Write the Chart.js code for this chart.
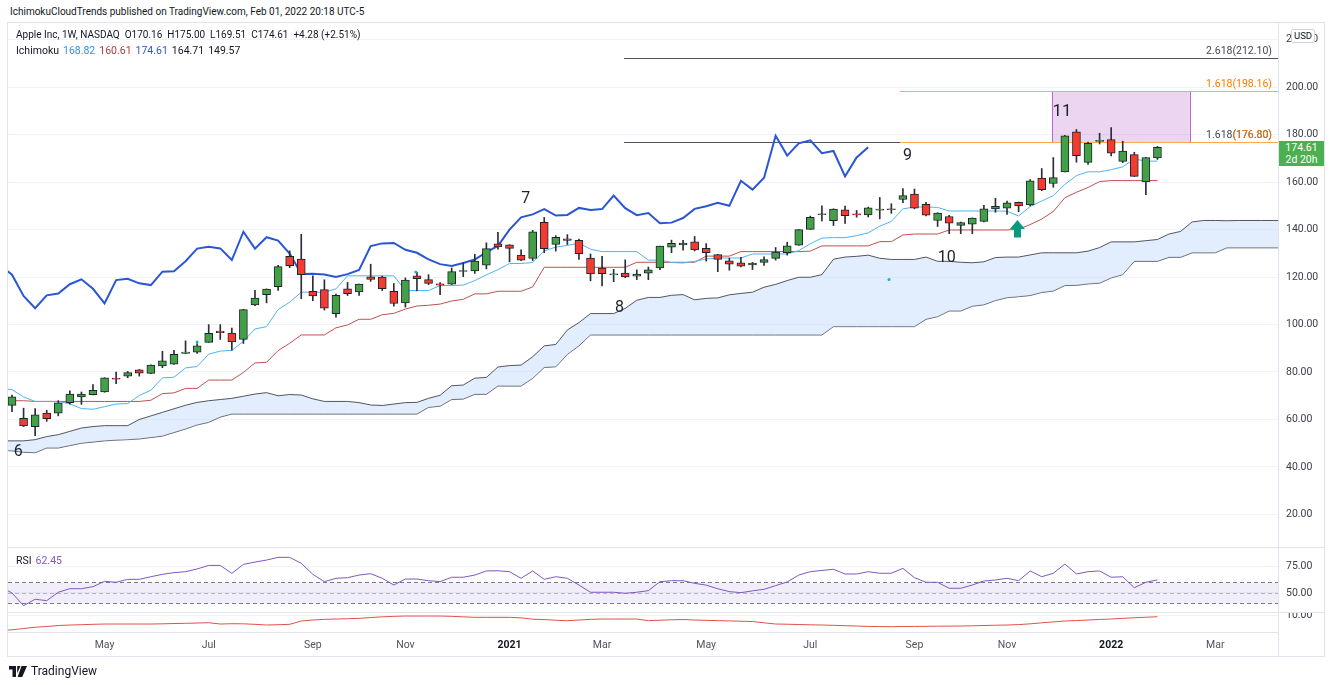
<!DOCTYPE html>
<html>
<head>
<meta charset="utf-8">
<title>Apple Inc, 1W, NASDAQ - Ichimoku</title>
<script src="https://cdn.jsdelivr.net/npm/chart.js@4.4.1/dist/chart.umd.min.js"></script>
<style>
  html, body { margin: 0; padding: 0; background: #fff; }
  body { width: 1332px; height: 685px; position: relative; overflow: hidden; font-family: Roboto, "Noto Sans", sans-serif; color: #131722; }
  .abs { position: absolute; white-space: nowrap; }
  canvas { position: absolute; }
  #frame { left: 7px; top: 22px; width: 1316px; height: 633px; border: 1px solid #e0e3eb; }
  .sep { position: absolute; background: #e0e3eb; }
  #hdr { left: 10px; top: 6px; font-size: 10px; }
  .legend { left: 16px; font-size: 10px; }
  .legend span { margin-right: 4px; }
  #usd { left: 1291px; top: 29px; width: 22px; height: 12px; border: 1px solid #d1d4dc; border-radius: 2px; background: #fff; font-size: 9.5px; line-height: 12px; text-align: center; }
  #tag { left: 1279px; top: 141px; width: 45px; height: 25px; background: #4caf50; color: #fff; font-size: 10.5px; line-height: 12px; text-align: center; padding-top: 1px; box-sizing: border-box; }
  #logo { left: 9px; top: 664px; font-size: 12px; display: flex; align-items: center; }
</style>
</head>
<body>
<div id="hdr" class="abs">IchimokuCloudTrends published on TradingView.com, Feb 01, 2022 20:18 UTC-5</div>
<div id="frame" class="abs"></div>

<canvas id="mainChart" width="1316" height="524" style="left:8px;top:23px"></canvas>
<div class="sep" style="left:8px;top:547px;width:1316px;height:1px"></div>
<canvas id="rsiChart" width="1316" height="64" style="left:8px;top:548px"></canvas>
<div class="sep" style="left:8px;top:612px;width:1316px;height:1px"></div>
<canvas id="lowChart" width="1316" height="43" style="left:8px;top:613px"></canvas>
<div class="sep" style="left:1278px;top:632px;width:1px;height:24px"></div>

<div class="abs legend" style="top:29px">Apple Inc, 1W, NASDAQ&nbsp; O170.16&nbsp; H175.00&nbsp; L169.51&nbsp; C174.61&nbsp; +4.28 (+2.51%)</div>
<div class="abs legend" style="top:44px;font-size:10.5px"><span>Ichimoku</span><span style="color:#2196f3">168.82</span><span style="color:#b23b3b">160.61</span><span style="color:#2a56d6">174.61</span><span>164.71</span><span>149.57</span></div>
<div class="abs legend" style="top:554px;font-size:10.5px"><span>RSI</span><span style="color:#7e57c2">62.45</span></div>
<div id="usd" class="abs">USD</div>
<div id="tag" class="abs">174.61<br>2d 20h</div>
<div id="logo" class="abs">
  <svg width="18" height="11" viewBox="0 0 18 11"><path d="M0 0h7v11H3.5V3.5H0z M8.2 0h3.3L8.2 7.5z M12.5 0H18l-4.8 11H8.6z" fill="#131722"/></svg>
  <span style="margin-left:4px">TradingView</span>
</div>

<script>
/* Data (weekly bars, Mar 2 2020 .. Jan 31 2022) */
const weeks = ['2020-03-02','2020-03-09','2020-03-16','2020-03-23','2020-03-30','2020-04-06','2020-04-13','2020-04-20','2020-04-27','2020-05-04',
  '2020-05-11','2020-05-18','2020-05-25','2020-06-01','2020-06-08','2020-06-15','2020-06-22','2020-06-29','2020-07-06','2020-07-13',
  '2020-07-20','2020-07-27','2020-08-03','2020-08-10','2020-08-17','2020-08-24','2020-08-31','2020-09-07','2020-09-14','2020-09-21',
  '2020-09-28','2020-10-05','2020-10-12','2020-10-19','2020-10-26','2020-11-02','2020-11-09','2020-11-16','2020-11-23','2020-11-30',
  '2020-12-07','2020-12-14','2020-12-21','2020-12-28','2021-01-04','2021-01-11','2021-01-18','2021-01-25','2021-02-01','2021-02-08',
  '2021-02-15','2021-02-22','2021-03-01','2021-03-08','2021-03-15','2021-03-22','2021-03-29','2021-04-05','2021-04-12','2021-04-19',
  '2021-04-26','2021-05-03','2021-05-10','2021-05-17','2021-05-24','2021-05-31','2021-06-07','2021-06-14','2021-06-21','2021-06-28',
  '2021-07-05','2021-07-12','2021-07-19','2021-07-26','2021-08-02','2021-08-09','2021-08-16','2021-08-23','2021-08-30','2021-09-06',
  '2021-09-13','2021-09-20','2021-09-27','2021-10-04','2021-10-11','2021-10-18','2021-10-25','2021-11-01','2021-11-08','2021-11-15',
  '2021-11-22','2021-11-29','2021-12-06','2021-12-13','2021-12-20','2021-12-27','2022-01-03','2022-01-10','2022-01-17','2022-01-24',
  '2022-01-31'];

const openP = [70.57,65.94,60.49,57.02,62.69,62.69,67.08,69.49,70.45,71.56,
  77.04,78.29,80.88,79.44,82.56,83.31,87.84,88.31,92.50,97.27,
  96.42,93.71,108.20,112.60,115.98,128.70,127.58,113.95,114.72,104.54,
  115.01,113.70,120.06,119.96,114.01,109.11,120.50,118.92,117.18,116.97,
  122.31,122.60,125.02,133.99,133.52,129.19,127.78,143.07,133.75,136.03,
  135.49,128.01,123.75,120.93,121.69,120.33,121.65,123.87,132.52,133.51,
  134.83,132.04,129.41,126.82,126.01,125.08,126.17,127.82,130.30,133.41,
  140.07,146.21,143.75,148.27,146.36,146.20,148.54,148.31,152.66,154.97,
  150.63,143.80,145.47,141.76,142.27,143.45,148.68,148.99,151.41,150.37,
  161.68,159.37,164.29,181.12,168.28,177.09,177.83,168.68,171.51,160.02,
  170.16];
const highP = [75.36,70.31,64.77,64.56,63.88,67.93,72.06,71.58,74.75,77.59,
  79.92,80.22,81.06,83.00,88.69,89.14,93.10,92.00,99.96,99.96,
  98.50,106.42,114.41,115.00,124.87,131.00,137.98,120.50,118.83,112.86,
  117.72,117.00,125.39,120.42,117.28,119.62,121.99,120.99,117.62,123.78,
  125.95,129.58,134.41,138.79,133.61,131.45,139.67,145.09,137.42,137.88,
  136.01,129.72,128.72,123.21,127.22,123.00,124.18,133.04,135.53,135.47,
  137.07,134.07,129.54,127.94,128.32,126.16,128.46,132.41,134.64,140.00,
  145.65,150.00,148.72,149.83,148.04,149.44,153.49,150.86,157.26,157.04,
  151.42,147.08,145.96,143.17,144.90,150.18,153.17,152.00,151.57,161.02,
  165.70,170.30,179.63,182.13,176.85,180.57,182.94,177.18,172.54,170.35,
  175.00];
const lowP = [64.09,63.24,57.00,53.15,59.22,61.52,66.45,66.36,70.30,71.46,
  75.05,77.58,78.27,79.30,81.83,83.14,87.77,87.82,92.47,93.70,
  89.14,92.01,107.89,109.11,114.30,123.94,110.89,110.00,106.09,103.10,
  112.22,112.25,118.15,114.28,107.72,107.32,114.13,116.81,112.59,116.81,
  120.15,121.54,123.45,131.72,126.38,126.86,126.94,130.21,130.93,133.69,
  127.41,118.39,116.21,118.03,119.68,118.92,118.86,123.07,130.21,131.30,
  130.97,126.70,122.25,122.86,124.21,123.13,124.83,127.13,129.21,133.35,
  140.07,143.63,141.67,142.54,145.18,145.30,144.50,146.83,151.28,148.70,
  145.76,141.27,138.27,138.27,138.27,143.16,147.24,146.41,147.48,149.92,
  156.36,157.80,164.28,168.34,167.46,176.02,170.97,168.17,162.30,154.70,
  169.51];
const closeP = [72.26,69.49,57.31,61.94,60.35,66.99,70.70,70.74,72.27,77.53,
  76.93,79.72,79.49,82.88,84.70,87.43,88.41,91.03,96.33,96.52,
  92.62,106.26,111.11,114.91,124.37,124.81,120.96,112.00,106.84,112.28,
  113.02,116.97,119.02,115.04,108.86,118.69,119.26,117.34,116.59,122.25,
  122.41,126.66,131.97,132.69,132.05,127.14,139.07,131.96,136.76,135.37,
  129.87,121.26,121.42,121.03,119.99,121.21,123.00,133.00,134.16,134.32,
  131.46,130.21,127.45,125.43,124.61,125.89,127.35,130.46,133.11,139.96,
  145.11,146.39,148.56,145.86,146.14,149.10,148.19,148.60,154.30,148.97,
  146.06,146.92,142.65,142.90,144.84,148.69,149.80,151.28,149.99,160.55,
  156.81,161.84,179.45,171.14,176.28,177.57,172.17,173.07,162.41,170.33,
  174.61];

// Ichimoku: conversion (tenkan), base (kijun), lagging (chikou, from bar 0), leading spans (to bar 111)
const tenkan = [73.0,72.6,69.5,67.6,67.6,67.6,66.6,64.6,64.3,65.4,
  66.5,66.7,70.1,72.3,77.5,77.8,81.7,82.3,87.5,88.8,
  89.1,92.9,98.1,99.1,106.3,109.4,113.6,113.6,113.6,115.0,
  120.5,120.5,120.5,120.5,120.5,114.3,114.3,114.3,116.4,116.4,
  116.6,118.5,120.9,123.1,125.7,125.7,126.1,131.0,132.6,133.3,
  134.3,131.7,130.7,130.7,130.7,130.7,127.1,127.1,126.1,125.9,
  126.6,127.6,128.0,128.0,128.0,129.7,129.7,129.7,129.7,131.1,
  134.0,136.4,136.6,136.6,137.4,138.6,141.4,143.4,148.7,149.5,
  149.5,149.3,147.8,147.8,147.8,147.8,147.8,147.7,145.7,149.7,
  152.0,154.3,159.0,162.7,164.3,164.3,165.2,166.4,169.7,168.8,
  168.8];
const kijun = [67.9,67.9,67.9,67.6,67.6,67.6,67.6,67.6,67.6,67.6,
  67.6,67.6,67.6,68.1,70.9,71.2,73.1,73.1,76.6,76.6,
  76.6,79.8,83.8,84.1,89.0,92.1,95.6,95.6,95.6,98.6,
  99.8,102.2,102.2,104.1,104.7,106.5,107.8,108.1,108.6,109.9,
  110.6,112.9,112.9,114.0,114.0,114.0,115.8,124.1,124.1,124.1,
  124.1,124.1,124.1,124.1,124.1,126.2,126.2,126.2,126.2,126.2,
  126.2,128.8,128.8,128.8,130.7,130.7,130.7,130.7,130.7,130.7,
  130.9,133.1,133.1,133.1,133.1,133.1,134.9,134.9,137.7,138.1,
  138.1,138.1,139.8,139.8,139.8,139.8,139.8,139.8,140.1,142.1,
  144.4,147.6,153.4,155.7,157.7,160.2,160.6,160.6,160.6,160.6,
  160.6];
const chikou = [124.81,120.96,112.00,106.84,112.28,113.02,116.97,119.02,115.04,108.86,
  118.69,119.26,117.34,116.59,122.25,122.41,126.66,131.97,132.69,132.05,
  127.14,139.07,131.96,136.76,135.37,129.87,121.26,121.42,121.03,119.99,
  121.21,123.00,133.00,134.16,134.32,131.46,130.21,127.45,125.43,124.61,
  125.89,127.35,130.46,133.11,139.96,145.11,146.39,148.56,145.86,146.14,
  149.10,148.19,148.60,154.30,148.97,146.06,146.92,142.65,142.90,144.84,
  148.69,149.80,151.28,149.99,160.55,156.81,161.84,179.45,171.14,176.28,
  177.57,172.17,173.07,162.41,170.33,174.61];
const spanA = [51.0,51.0,51.0,51.5,52.8,53.6,55.0,56.4,57.0,57.4,
  57.4,57.4,60.0,61.5,63.0,64.5,66.0,67.2,67.9,68.4,
  68.9,69.8,70.7,71.3,70.0,70.5,70.3,68.7,67.6,67.6,
  67.6,67.1,66.1,65.9,66.5,67.1,67.2,68.9,70.2,74.2,
  74.5,77.4,77.7,82.1,82.7,82.9,86.4,91.0,91.6,97.7,
  100.8,104.6,104.6,104.6,106.8,110.2,111.4,111.4,112.3,112.6,
  110.4,111.0,111.2,112.5,113.1,113.6,115.7,116.9,118.5,119.9,
  119.9,121.0,127.5,128.4,128.7,129.2,127.9,127.4,127.4,127.4,
  128.4,126.6,126.6,126.2,126.0,126.4,128.2,128.4,128.4,129.3,
  130.2,130.2,130.2,130.2,130.9,132.4,134.8,134.8,134.8,135.3,
  135.8,138.1,139.2,143.2,143.8,143.8,143.7,143.8,143.8,143.8,
  143.8,143.8];
const spanB = [47.0,46.8,46.2,46.0,48.0,48.0,49.0,50.0,50.5,51.0,
  51.3,51.5,51.8,52.4,53.0,54.5,56.0,57.7,58.8,61.0,
  62.3,62.3,62.3,62.3,62.3,62.3,62.3,62.3,62.3,62.3,
  62.3,62.3,62.3,62.3,62.3,62.3,62.3,65.1,65.6,68.4,
  68.6,70.6,70.6,74.1,74.1,74.1,77.3,81.9,82.2,87.4,
  91.0,95.6,95.6,95.6,95.6,95.6,95.6,95.6,95.6,95.6,
  95.6,95.6,95.6,95.6,95.6,95.6,95.6,95.6,95.6,95.6,
  95.6,95.6,99.1,99.1,99.1,99.1,99.1,99.1,99.1,99.1,
  102.2,103.3,105.7,105.7,107.7,108.3,110.1,111.3,111.7,112.2,
  113.5,114.1,116.4,116.5,117.1,117.4,119.6,121.0,126.6,126.6,
  126.6,128.3,128.3,130.2,130.2,130.2,132.3,132.3,132.3,132.3,
  132.3,132.3];

const rsi = [56,50,37.9,44,42.7,50.7,54.1,54.1,56,61.1,
  60.2,63,63,65.5,67.8,69.4,70.3,72.9,76.3,76.3,
  68.7,77.3,79.5,81.4,84,84,78.3,67.8,60.8,64,
  64.6,67.1,68.4,64,57.6,63.3,63.3,61.7,60.8,65,
  65,67.1,71,71.2,70.3,64,71,63,65.5,64,
  57.6,50.7,50.7,50.7,49.7,50.7,52.2,60.8,61.7,61.7,
  59.2,57.5,54,51.3,50.3,52,53.5,57,60.5,67.1,
  70.3,71.5,72.6,68.1,68.1,70.3,68.8,68.8,73.5,64.6,
  60.2,60.2,54.5,54.5,57.6,61.4,62.4,64,61.7,71,
  65.5,68.8,77.6,68.1,70.3,71,65,65.5,55,60.2,
  62.45];
const lowerPane = [2.1,2.6,3.25,3.9,4.25,4.75,5,5.15,5.35,5.5,
  5.5,5.5,5.5,5.5,5.6,5.75,5.85,6,6.15,5.5,
  5.65,5.6,5.35,5,5.15,5.35,7,7.5,7.85,8,
  8.15,8.35,8.75,9.1,9.35,9.5,9.5,9.5,9.5,9.35,
  9.1,8.85,8.85,8.85,8.85,8.6,7.9,7.75,7.4,7.15,
  7.5,7.85,8,8,8,8,7.2,7.4,7.6,7.75,
  7.5,7.35,7.2,7.05,6.9,6.75,6.1,5.5,5.4,5.25,
  5.1,5,4.85,4.65,4.5,4.3,4.2,4.15,4.25,4.3,
  4.35,4.4,4.45,4.5,4.6,4.75,4.9,5,5.2,5.6,
  6.1,6.55,7,7.25,7.5,7.8,8,8.35,8.65,8.9,
  9.15];

const priceTicks = [20, 40, 60, 80, 100, 120, 140, 160, 180, 200, 220];
const rsiTicks = [50, 75];
const lowerTicks = [10];
const xTickIdx = [9, 18, 27, 35, 44, 52, 61, 70, 79, 87, 96, 105];
const xTickText = ['May', 'Jul', 'Sep', 'Nov', '2021', 'Mar', 'May', 'Jul', 'Sep', 'Nov', '2022', 'Mar'];

/* Drawings on the price pane (data coordinates) */
const fibLines = [
    { value: 212.10, from: 53.9, to: null, color: '#50535e' },
    { value: 176.80, from: 53.9, to: 77.75, color: '#50535e' },
    { value: 198.16, from: 77.75, to: null, color: '#ffa94d' },
    { value: 176.80, from: 77.75, to: null, color: '#ffa94d' }
];
const fibLabels = [
    { value: 212.10, text: '2.618(212.10)', color: '#434651' },
    { value: 198.16, text: '1.618(198.16)', color: '#f57c00' },
    { value: 176.80, text: '1.618(176.80)', color: '#434651' },
    { value: 176.80, text: '(176.80)', color: '#f57c00' }
];
const targetBox = { from: 90.9, to: 102.8, top: 198.16, bottom: 176.80 };
const waveLabels = [
    { k: 1.55, v: 46.5, text: '6', size: 16 },
    { k: 45.4, v: 152.8, text: '7', size: 16 },
    { k: 53.5, v: 107.0, text: '8', size: 16 },
    { k: 78.4, v: 170.9, text: '9', size: 16 },
    { k: 81.8, v: 128.0, text: '10', size: 16 },
    { k: 91.75, v: 189.5, text: '11', size: 17 }
];
const upArrow = { k: 87.9, tip: 144.0, base: 136.6 };
const markerDots = [[17, 92.6], [35.9, 122.1], [76.8, 119.0]];

const X_MIN = 0.654;
const X_MAX = 110.42;
const AXIS_W = 46;
const FONT = 'Roboto, "Noto Sans", sans-serif';

/* Helper functions */
function pts(values) {
    return values.map((v, k) => ({ x: k, y: v }));
}

function fixedTicks(list) {
    return function (scale) {
        scale.ticks = list.map(v => ({ value: v }));
    };
}

// right price axis; tiny lineHeight and zero padding keep the axis from shrinking the plot area
function rightAxis(min, max, ticks, decimals) {
    return {
        position: 'right',
        min: min,
        max: max,
        afterBuildTicks: fixedTicks(ticks),
        afterFit: function (scale) { scale.width = AXIS_W; },
        grid: { color: '#f0f3fa', drawTicks: true, tickLength: 8, tickColor: 'rgba(0,0,0,0)' },
        border: { display: true, color: '#e0e3eb' },
        ticks: {
            padding: 0,
            color: '#3b3e48',
            font: { family: FONT, size: 10.5, lineHeight: 0.01 },
            callback: v => v.toFixed(decimals)
        }
    };
}

function hiddenX() {
    return { type: 'linear', min: X_MIN, max: X_MAX, display: false, offset: false };
}

const baseOptions = {
    responsive: false,
    animation: false,
    events: [],
    layout: { padding: 0, autoPadding: false },
    plugins: { legend: { display: false }, tooltip: { enabled: false } },
    elements: { point: { radius: 0 } }
};

/* Plugins */
const priceDrawings = {
    id: 'priceDrawings',
    beforeDatasetsDraw(chart) {
        const { ctx, chartArea: a, scales: { x, y } } = chart;
        ctx.save();
        ctx.beginPath();
        ctx.rect(a.left, a.top, a.right - a.left, a.bottom - a.top);
        ctx.clip();
        const bx1 = x.getPixelForValue(targetBox.from), bx2 = x.getPixelForValue(targetBox.to);
        const by1 = y.getPixelForValue(targetBox.top), by2 = y.getPixelForValue(targetBox.bottom);
        ctx.fillStyle = 'rgba(186, 104, 200, 0.28)';
        ctx.fillRect(bx1, by1, bx2 - bx1, by2 - by1);
        ctx.strokeStyle = '#ba68c8';
        ctx.lineWidth = 1;
        ctx.strokeRect(Math.round(bx1) + 0.5, Math.round(by1) + 0.5, Math.round(bx2 - bx1), Math.round(by2 - by1));
        fibLines.forEach(f => {
            const yy = Math.round(y.getPixelForValue(f.value)) + 0.5;
            ctx.strokeStyle = f.color;
            ctx.beginPath();
            ctx.moveTo(x.getPixelForValue(f.from), yy);
            ctx.lineTo(f.to === null ? a.right : x.getPixelForValue(f.to), yy);
            ctx.stroke();
        });
        ctx.restore();
    },
    afterDatasetsDraw(chart) {
        const { ctx, chartArea: a, scales: { x, y } } = chart;
        ctx.save();
        ctx.textAlign = 'right';
        ctx.textBaseline = 'middle';
        ctx.font = '10.5px ' + FONT;
        fibLabels.forEach(l => {
            ctx.fillStyle = l.color;
            ctx.fillText(l.text, a.right - 6, y.getPixelForValue(l.value) - 7);
        });
        ctx.textAlign = 'center';
        ctx.fillStyle = '#1e222d';
        waveLabels.forEach(w => {
            ctx.font = w.size + 'px ' + FONT;
            ctx.fillText(w.text, x.getPixelForValue(w.k), y.getPixelForValue(w.v));
        });
        // green arrow
        const ax = x.getPixelForValue(upArrow.k);
        const ty = y.getPixelForValue(upArrow.tip), by = y.getPixelForValue(upArrow.base);
        const hy = ty + 9;
        ctx.fillStyle = '#089981';
        ctx.beginPath();
        ctx.moveTo(ax, ty);
        ctx.lineTo(ax + 7.5, hy);
        ctx.lineTo(ax + 3.5, hy);
        ctx.lineTo(ax + 3.5, by);
        ctx.lineTo(ax - 3.5, by);
        ctx.lineTo(ax - 3.5, hy);
        ctx.lineTo(ax - 7.5, hy);
        ctx.closePath();
        ctx.fill();
        ctx.fillStyle = '#00bcd4';
        markerDots.forEach(d => {
            ctx.beginPath();
            ctx.arc(x.getPixelForValue(d[0]), y.getPixelForValue(d[1]), 1.5, 0, Math.PI * 2);
            ctx.fill();
        });
        ctx.restore();
    }
};

const rsiBands = {
    id: 'rsiBands',
    beforeDatasetsDraw(chart) {
        const { ctx, chartArea: a, scales: { y } } = chart;
        const y60 = Math.round(y.getPixelForValue(60)) + 0.5;
        const y50 = Math.round(y.getPixelForValue(50)) + 0.5;
        const y40 = Math.round(y.getPixelForValue(40)) + 0.5;
        ctx.save();
        ctx.fillStyle = 'rgba(126, 87, 194, 0.1)';
        ctx.fillRect(a.left, y60, a.right - a.left, y40 - y60);
        ctx.setLineDash([4, 3]);
        ctx.lineWidth = 1;
        [[y60, '#787b86'], [y50, 'rgba(120,123,134,0.5)'], [y40, '#787b86']].forEach(l => {
            ctx.strokeStyle = l[1];
            ctx.beginPath();
            ctx.moveTo(a.left, l[0]);
            ctx.lineTo(a.right, l[0]);
            ctx.stroke();
        });
        ctx.restore();
    }
};

/* Chart configs */
const bodyColors = closeP.map((c, k) => c >= openP[k] ? '#43a047' : '#f23c32');

const configMain = {
    type: 'bar',
    data: {
        datasets: [
            {
                label: 'Body',
                data: closeP.map((c, k) => ({ x: k, y: [openP[k], c] })),
                backgroundColor: bodyColors,
                borderColor: '#1e222d',
                borderWidth: 1,
                borderSkipped: false,
                barThickness: 8,
                minBarLength: 1,
                grouped: false,
                order: 1
            },
            {
                label: 'Wick',
                data: highP.map((h, k) => ({ x: k, y: [lowP[k], h] })),
                backgroundColor: '#2a2e39',
                borderWidth: 0,
                barThickness: 1,
                grouped: false,
                order: 2
            },
            {
                type: 'line',
                label: 'Lagging Span',
                data: pts(chikou),
                borderColor: '#2a56d6',
                borderWidth: 2,
                pointRadius: 0,
                fill: false,
                order: 3
            },
            {
                type: 'line',
                label: 'Conversion Line',
                data: pts(tenkan),
                borderColor: '#4fb3f6',
                borderWidth: 1,
                pointRadius: 0,
                fill: false,
                order: 4
            },
            {
                type: 'line',
                label: 'Base Line',
                data: pts(kijun),
                borderColor: '#c0504d',
                borderWidth: 1,
                pointRadius: 0,
                fill: false,
                order: 5
            },
            {
                type: 'line',
                label: 'Lead 1',
                data: pts(spanA),
                borderColor: 'rgba(55, 58, 66, 0.85)',
                borderWidth: 1,
                pointRadius: 0,
                backgroundColor: 'rgba(190, 215, 250, 0.45)',
                fill: '+1',
                order: 6
            },
            {
                type: 'line',
                label: 'Lead 2',
                data: pts(spanB),
                borderColor: 'rgba(55, 58, 66, 0.85)',
                borderWidth: 1,
                pointRadius: 0,
                fill: false,
                order: 7
            }
        ]
    },
    options: Object.assign({}, baseOptions, {
        scales: {
            x: hiddenX(),
            y: rightAxis(6.32, 226.95, priceTicks, 2)
        }
    }),
    plugins: [priceDrawings]
};

const configRsi = {
    type: 'line',
    data: {
        datasets: [{
            label: 'RSI',
            data: pts(rsi),
            borderColor: '#7e57c2',
            borderWidth: 1,
            pointRadius: 0,
            fill: false
        }]
    },
    options: Object.assign({}, baseOptions, {
        scales: {
            x: hiddenX(),
            y: rightAxis(31.9, 92.86, rsiTicks, 2)
        }
    }),
    plugins: [rsiBands]
};

const configLow = {
    type: 'line',
    data: {
        datasets: [{
            label: 'Lower pane',
            data: pts(lowerPane),
            borderColor: '#e0514b',
            borderWidth: 1,
            pointRadius: 0,
            fill: false
        }]
    },
    options: Object.assign({}, baseOptions, {
        scales: {
            x: {
                type: 'linear',
                min: X_MIN,
                max: X_MAX,
                offset: false,
                afterBuildTicks: fixedTicks(xTickIdx),
                afterFit: function (scale) { scale.height = 24; },
                grid: { display: false, drawTicks: false },
                border: { display: true, color: '#e0e3eb' },
                ticks: {
                    autoSkip: false,
                    maxRotation: 0,
                    padding: 7,
                    callback: (v, i) => xTickText[i],
                    color: ctx => /^20/.test(xTickText[ctx.index] || '') ? '#131722' : '#50535e',
                    font: ctx => ({
                        family: FONT,
                        size: 10.5,
                        weight: /^20/.test(xTickText[ctx.index] || '') ? 'bold' : 'normal'
                    })
                }
            },
            y: rightAxis(1.5, 11, lowerTicks, 2)
        }
    })
};

let mainChart;
let rsiChart;
let lowChart;

/* Chart instances */
mainChart = new Chart(document.getElementById('mainChart'), configMain);
rsiChart = new Chart(document.getElementById('rsiChart'), configRsi);
lowChart = new Chart(document.getElementById('lowChart'), configLow);
</script>
</body>
</html>
